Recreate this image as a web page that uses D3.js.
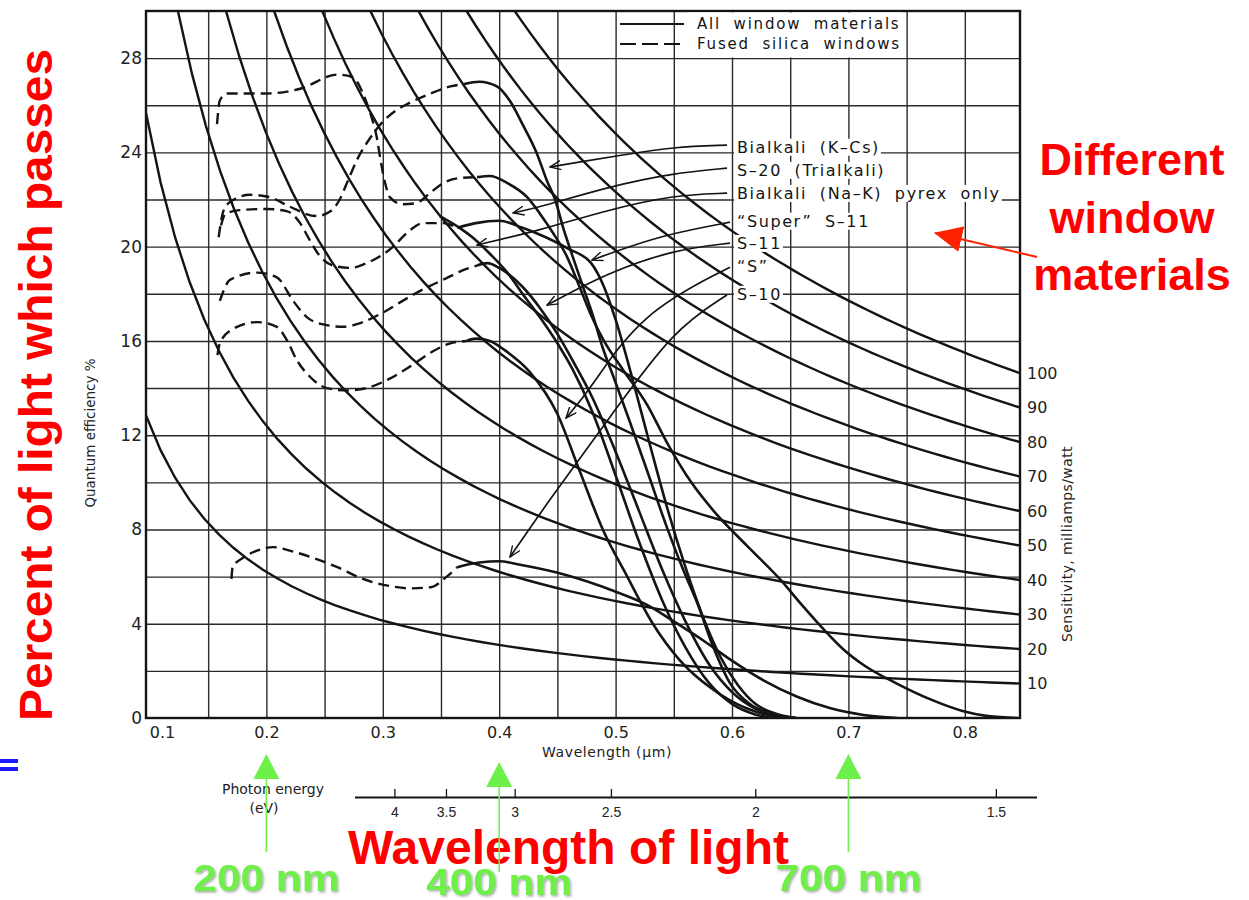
<!DOCTYPE html>
<html>
<head>
<meta charset="utf-8">
<script src="https://cdn.jsdelivr.net/npm/d3@7"></script>
<style>
  body { margin: 0; background: #fff; }
  svg { display: block; }
</style>
</head>
<body>
<svg id="chart" width="1249" height="900"></svg>
<script>
// values: wavelength in µm, quantum efficiency in %
const xTicks = [0.1, 0.2, 0.3, 0.4, 0.5, 0.6, 0.7, 0.8]
const xGrid = [0.15, 0.2, 0.25, 0.3, 0.35, 0.4, 0.45, 0.5, 0.55, 0.6, 0.65, 0.7, 0.75, 0.8]
const yTicks = [0, 4, 8, 12, 16, 20, 24, 28]
const yGrid = [2, 4, 6, 8, 10, 12, 14, 16, 18, 20, 22, 24, 26, 28]
const sensitivities = [10, 20, 30, 40, 50, 60, 70, 80, 90, 100]   // milliamps/watt
const energyTicks = [4, 3.5, 3, 2.5, 2, 1.5]                        // eV

const cathodes = ["Bialkali (K–Cs)", "S–20 (Trialkali)", "Bialkali (Na–K) pyrex only",
  "“Super” S–11", "S–11", "“S”", "S–10"]

// fused silica (dashed) and all-window (solid) parts of each response
const kcsUV = [[0.159,20.4],[0.163,21.5],[0.169,21.9],[0.186,22.2],[0.203,22.1],[0.220,21.7],[0.243,21.3],
  [0.255,21.5],[0.263,22.0],[0.270,22.8],[0.278,23.7],[0.289,24.6],[0.300,25.3],[0.312,25.8],[0.323,26.1],
  [0.341,26.5],[0.358,26.8],[0.370,26.9]]
const kcsVis = [[0.370,26.9],[0.383,27.0],[0.398,26.8],[0.409,26.2],[0.420,25.2],[0.432,24.0],[0.441,22.8],
  [0.448,22.0],[0.455,20.8],[0.463,19.6],[0.472,18.3],[0.481,17.0],[0.489,15.7],[0.498,14.5],[0.512,12.6],
  [0.527,10.5],[0.544,8.1],[0.558,6.3],[0.570,4.9],[0.584,3.0],[0.598,1.5],[0.615,0.6],[0.635,0.15],[0.65,0]]

const s20UV = [[0.1576,25.2],[0.160,26.2],[0.166,26.5],[0.200,26.5],[0.229,26.7],[0.261,27.3],[0.274,27.2],
  [0.283,26.5],[0.289,25.7],[0.295,24.6],[0.298,23.7],[0.302,22.7],[0.306,22.1],[0.317,21.8],[0.329,21.85],
  [0.341,22.3],[0.352,22.7],[0.364,22.9],[0.381,22.95]]
const s20Vis = [[0.381,22.95],[0.392,23.0],[0.407,22.7],[0.424,22.1],[0.435,21.4],[0.446,20.6],[0.458,19.6],
  [0.469,18.3],[0.478,17.2],[0.49,16.0],[0.506,14.8],[0.527,13.3],[0.544,11.7],[0.565,10.0],[0.584,8.8],
  [0.613,7.3],[0.641,5.9],[0.66,4.8],[0.678,3.8],[0.696,2.9],[0.713,2.25],[0.742,1.45],[0.77,0.8],
  [0.798,0.3],[0.82,0.08],[0.845,0]]

const nakVis = [[0.349,21.3],[0.366,20.8],[0.377,20.4],[0.392,19.7],[0.407,18.9],[0.42,18.0],[0.435,17.0],
  [0.45,15.9],[0.463,14.8],[0.48,13.0],[0.50,10.3],[0.52,7.5],[0.54,5.0],[0.56,3.0],[0.58,1.5],[0.60,0.6],
  [0.62,0.15],[0.635,0]]

const superUV = [[0.161,20.9],[0.165,21.4],[0.177,21.55],[0.200,21.6],[0.218,21.5],[0.229,21.0],[0.237,20.3],
  [0.246,19.6],[0.257,19.2],[0.272,19.1],[0.286,19.3],[0.298,19.6],[0.309,20.0],[0.321,20.6],[0.335,21.0],
  [0.352,21.0],[0.364,20.8]]
const superVis = [[0.364,20.8],[0.38,21.0],[0.40,21.1],[0.42,20.8],[0.44,20.4],[0.46,19.9],[0.479,19.3],
  [0.49,18.3],[0.50,16.9],[0.515,14.3],[0.53,11.5],[0.545,8.8],[0.56,6.4],[0.575,4.3],[0.59,2.6],
  [0.605,1.4],[0.62,0.6],[0.64,0.15],[0.655,0]]

const s11UV = [[0.160,17.7],[0.169,18.6],[0.192,18.9],[0.209,18.7],[0.223,17.7],[0.235,17.0],[0.249,16.7],
  [0.266,16.6],[0.283,16.8],[0.300,17.2],[0.317,17.7],[0.335,18.2],[0.352,18.6],[0.369,19.0],[0.381,19.2]]
const s11Vis = [[0.381,19.2],[0.39,19.3],[0.40,19.1],[0.42,18.3],[0.435,17.4],[0.45,16.3],[0.465,15.0],
  [0.48,13.6],[0.50,11.3],[0.52,8.8],[0.54,6.3],[0.56,4.1],[0.58,2.3],[0.60,1.1],[0.62,0.4],[0.64,0.1],[0.655,0]]

const sUV = [[0.158,15.4],[0.160,15.9],[0.171,16.5],[0.192,16.8],[0.209,16.6],[0.218,16.0],[0.226,15.2],
  [0.237,14.5],[0.252,14.0],[0.269,13.9],[0.286,14.0],[0.306,14.4],[0.323,14.9],[0.341,15.5],[0.358,15.9],
  [0.372,16.0]]
const sVis = [[0.372,16.0],[0.38,16.1],[0.392,16.0],[0.405,15.6],[0.426,14.7],[0.45,12.9],[0.469,10.5],
  [0.489,8.0],[0.51,6.0],[0.532,4.0],[0.555,2.46],[0.584,1.2],[0.613,0.4],[0.64,0.05],[0.655,0]]

const s10UV = [[0.170,5.9],[0.171,6.4],[0.180,6.8],[0.192,7.1],[0.206,7.25],[0.220,7.1],[0.240,6.8],
  [0.261,6.4],[0.283,5.9],[0.306,5.6],[0.323,5.5],[0.341,5.55],[0.355,6.0],[0.364,6.4]]
const s10Vis = [[0.364,6.4],[0.372,6.5],[0.383,6.6],[0.40,6.65],[0.418,6.5],[0.455,6.1],[0.498,5.4],
  [0.527,4.8],[0.55,4.1],[0.575,3.3],[0.598,2.5],[0.627,1.6],[0.656,0.9],[0.684,0.42],[0.713,0.13],[0.742,0]]

// label rows (QE at label) and leader paths ending in the arrow tips
const labelQE = [24.23, 23.25, 22.27, 21.09, 20.15, 19.18, 17.99]
const leaders = [
  [[0.5957,24.31],[0.5493,24.23],[0.5064,23.89],[0.4634,23.55],[0.4436,23.38]],
  [[0.5957,23.33],[0.5493,23.12],[0.4926,22.53],[0.4351,21.68],[0.4119,21.43]],
  [[0.5957,22.27],[0.5493,22.19],[0.4926,21.55],[0.4351,20.70],[0.3809,20.07]],
  [[0.5983,21.04],[0.5493,20.58],[0.5098,19.98],[0.4797,19.43]],
  [[0.5983,20.15],[0.5493,19.86],[0.4926,18.88],[0.4411,17.52]],
  [[0.5983,19.13],[0.5210,17.18],[0.4780,13.92],[0.4574,12.73]],
  [[0.5957,17.95],[0.5493,16.46],[0.4978,12.94],[0.4411,9.12],[0.4093,6.83]]
]

const curves = [
  {uv: kcsUV, vis: kcsVis}, {uv: s20UV, vis: s20Vis}, {uv: [], vis: nakVis},
  {uv: superUV, vis: superVis}, {uv: s11UV, vis: s11Vis}, {uv: sUV, vis: sVis}, {uv: s10UV, vis: s10Vis}
]

// ---- layout ----
let plot = {left: 146, right: 1020, top: 11, bottom: 718}
let ink = "#141414", font = "DejaVu Sans, sans-serif", bold = "Liberation Sans, Arial, sans-serif"

let svg = d3.select("#chart")
let x = d3.scaleLinear().domain([0.0966, 0.8474]).range([plot.left, plot.right])
let y = d3.scaleLinear().domain([0, 30]).range([plot.bottom, plot.top])

// mA/W -> QE% at a given wavelength (µm)
function isoQE(s, lam) { return s * 0.124 / lam }

svg.append("defs").html(`
  <clipPath id="clip"><rect x="${plot.left}" y="${plot.top}" width="${plot.right - plot.left}" height="${plot.bottom - plot.top}"/></clipPath>
  <filter id="shadow" x="-10%" y="-20%" width="120%" height="140%">
    <feDropShadow dx="1.5" dy="1.5" stdDeviation="1" flood-color="#555" flood-opacity="0.5"/></filter>
  <marker id="open" markerUnits="userSpaceOnUse" viewBox="0 0 12 10" refX="11" refY="5" markerWidth="12" markerHeight="10" orient="auto">
    <path d="M0,0.5 L11,5 L0,9.5" fill="none" stroke="${ink}" stroke-width="1.4"/></marker>
  <marker id="redhead" markerUnits="userSpaceOnUse" viewBox="0 0 28 26" refX="27" refY="13" markerWidth="28" markerHeight="26" orient="auto">
    <path d="M0,0 L28,13 L0,26 z" fill="#ff2200"/></marker>`)

// grid
svg.append("g")
  .attr("transform", `translate(0,${plot.bottom})`)
  .call(d3.axisBottom(x).tickValues(xGrid).tickSize(-(plot.bottom - plot.top)).tickFormat(""))
  .call(g => g.select(".domain").remove())
  .call(g => g.selectAll("line").attr("stroke", "#2a2a2a").attr("stroke-width", 1.4))

svg.append("g")
  .attr("transform", `translate(${plot.left},0)`)
  .call(d3.axisLeft(y).tickValues(yGrid).tickSize(-(plot.right - plot.left)).tickFormat(""))
  .call(g => g.select(".domain").remove())
  .call(g => g.selectAll("line").attr("stroke", "#2a2a2a").attr("stroke-width", 1.4))

let body = svg.append("g").attr("clip-path", "url(#clip)")

// constant sensitivity lines
let lamEnd = x.domain()[1]
let iso = d3.line().x(d => x(d[0])).y(d => y(d[1]))
sensitivities.forEach(s => {
  let lam0 = Math.max(x.domain()[0], isoQE(s, 1) / 30)
  let pts = d3.range(61).map(i => {
    let lam = lam0 + (lamEnd - lam0) * i / 60
    return [lam, isoQE(s, lam)]
  })
  body.append("path").attr("d", iso(pts))
    .attr("fill", "none").attr("stroke", ink).attr("stroke-width", 2.4)
})

// photocathode responses
let resp = d3.line().x(d => x(d[0])).y(d => y(d[1])).curve(d3.curveMonotoneX)
curves.forEach(c => {
  if (c.uv.length)
    body.append("path").attr("d", resp(c.uv))
      .attr("fill", "none").attr("stroke", ink).attr("stroke-width", 2.4)
      .attr("stroke-dasharray", "11,6")
  body.append("path").attr("d", resp(c.vis))
    .attr("fill", "none").attr("stroke", ink).attr("stroke-width", 2.6)
})

// frame
svg.append("rect")
  .attr("x", plot.left).attr("y", plot.top)
  .attr("width", plot.right - plot.left).attr("height", plot.bottom - plot.top)
  .attr("fill", "none").attr("stroke", ink).attr("stroke-width", 2.4)

// legend
let lg = svg.append("g")
lg.append("rect").attr("x", 688).attr("y", plot.top + 1.5).attr("width", 214).attr("height", 45).attr("fill", "#fff")
lg.append("line").attr("x1", 620).attr("x2", 684).attr("y1", 24).attr("y2", 24)
  .attr("stroke", ink).attr("stroke-width", 2)
lg.append("line").attr("x1", 620).attr("x2", 684).attr("y1", 44).attr("y2", 44)
  .attr("stroke", ink).attr("stroke-width", 2).attr("stroke-dasharray", "16,6")
lg.selectAll("text").data(["All window materials", "Fused silica windows"]).enter()
  .append("text")
  .attr("x", 697).attr("y", (d, i) => 29 + i * 20)
  .attr("font-family", font).attr("font-size", 15).attr("letter-spacing", 1.8).attr("word-spacing", 6)
  .attr("fill", ink).text(d => d)

// curve labels with white backing
let lx = x(0.6043)
cathodes.forEach((name, i) => {
  let g = svg.append("g")
  let t = g.append("text")
    .attr("x", lx).attr("y", y(labelQE[i])).attr("dy", "0.36em")
    .attr("font-family", font).attr("font-size", 16).attr("letter-spacing", 1.6).attr("word-spacing", 6)
    .attr("fill", ink).text(name)
  let b = t.node().getBBox()
  g.insert("rect", "text").attr("x", b.x - 3).attr("y", b.y + 1).attr("width", b.width + 4).attr("height", b.height - 2)
    .attr("fill", "#fff")
})

let lead = d3.line().x(d => x(d[0])).y(d => y(d[1])).curve(d3.curveBasis)
leaders.forEach(pts => {
  svg.append("path").attr("d", lead(pts))
    .attr("fill", "none").attr("stroke", ink).attr("stroke-width", 1.7)
    .attr("marker-end", "url(#open)")
})

// axes labels
svg.append("g")
  .attr("transform", `translate(${plot.left},0)`)
  .call(d3.axisLeft(y).tickValues(yTicks).tickSize(0).tickPadding(4))
  .call(g => g.select(".domain").remove())
  .call(g => g.selectAll("text").attr("font-family", font).attr("font-size", 17).attr("fill", "#222"))

svg.append("g")
  .attr("transform", `translate(0,${plot.bottom})`)
  .call(d3.axisBottom(x).tickValues(xTicks).tickSize(0).tickPadding(9).tickFormat(d3.format(".1f")))
  .call(g => g.select(".domain").remove())
  .call(g => g.selectAll("text").attr("font-family", font).attr("font-size", 16).attr("fill", "#222")
    .attr("dx", d => d === 0.1 ? 12 : 0))

let rightVals = sensitivities.map(s => isoQE(s, lamEnd))
svg.append("g")
  .attr("transform", `translate(${plot.right},0)`)
  .call(d3.axisRight(y).tickValues(rightVals).tickSize(0).tickPadding(7).tickFormat((d, i) => sensitivities[i]))
  .call(g => g.select(".domain").remove())
  .call(g => g.selectAll("text").attr("font-family", font).attr("font-size", 16).attr("fill", "#222"))

svg.append("text")
  .attr("transform", `translate(95,433) rotate(-90)`).attr("text-anchor", "middle")
  .attr("font-family", font).attr("font-size", 13.5).attr("fill", "#222").text("Quantum efficiency %")
svg.append("text")
  .attr("transform", `translate(1072,544) rotate(-90)`).attr("text-anchor", "middle")
  .attr("font-family", font).attr("font-size", 14).attr("letter-spacing", 0.4).attr("fill", "#222")
  .text("Sensitivity, milliamps/watt")
svg.append("text")
  .attr("x", 607).attr("y", 757).attr("text-anchor", "middle")
  .attr("font-family", font).attr("font-size", 14).attr("letter-spacing", 0.6).attr("fill", "#222")
  .text("Wavelength (μm)")

// photon energy scale: position is linear in 1/E
let e = d3.scalePow().exponent(-1).domain([1.24 / 0.2757, 1.24 / 0.8616]).range([x(0.2757), x(0.8616)])
svg.append("g")
  .attr("transform", "translate(0,797)")
  .call(d3.axisBottom(e).tickValues(energyTicks).tickSize(-8).tickSizeOuter(0).tickPadding(10)
    .tickFormat(d => String(d)))
  .call(g => g.select(".domain").attr("stroke", ink).attr("stroke-width", 2))
  .call(g => g.selectAll("line").attr("stroke", ink).attr("stroke-width", 1.3))
  .call(g => g.selectAll("text").attr("font-family", bold).attr("font-size", 14).attr("fill", "#222"))
svg.append("text").attr("x", 273).attr("y", 794).attr("text-anchor", "middle")
  .attr("font-family", font).attr("font-size", 14).attr("fill", "#222").text("Photon energy")
svg.append("text").attr("x", 264).attr("y", 813).attr("text-anchor", "middle")
  .attr("font-family", font).attr("font-size", 14).attr("fill", "#222").text("(eV)")

// slide annotations
let red = "#fe0000"
svg.append("text")
  .attr("transform", "translate(52,385) rotate(-90)").attr("text-anchor", "middle")
  .attr("font-family", bold).attr("font-weight", "bold").attr("font-size", 46)
  .attr("textLength", 672).attr("lengthAdjust", "spacingAndGlyphs")
  .attr("fill", red).text("Percent of light which passes")

svg.selectAll(".mat").data(["Different", "window", "materials"]).enter()
  .append("text").attr("class", "mat")
  .attr("x", 1132).attr("y", (d, i) => 175 + i * 57.5).attr("text-anchor", "middle")
  .attr("font-family", bold).attr("font-weight", "bold").attr("font-size", 45)
  .attr("fill", red).text(d => d)

svg.append("line").attr("x1", 1037).attr("y1", 257).attr("x2", 935).attr("y2", 233)
  .attr("stroke", "#ff2200").attr("stroke-width", 2).attr("marker-end", "url(#redhead)")

svg.append("text")
  .attr("x", 348).attr("y", 864)
  .attr("font-family", bold).attr("font-weight", "bold").attr("font-size", 48)
  .attr("textLength", 441).attr("lengthAdjust", "spacingAndGlyphs")
  .attr("fill", red).text("Wavelength of light")

// green markers at 200, 400, 700 nm
let green = "#6ef04a"
let marks = [{lam: 0.2, tip: 754, end: 852, base: 891, text: "200 nm"},
             {lam: 0.4, tip: 762, end: 872, base: 895, text: "400 nm"},
             {lam: 0.7, tip: 754, end: 852, base: 891, text: "700 nm"}]
marks.forEach(m => {
  let cx = x(m.lam)
  svg.append("line").attr("x1", cx).attr("x2", cx).attr("y1", m.tip + 20).attr("y2", m.end)
    .attr("stroke", green).attr("stroke-width", 1.6)
  svg.append("path").attr("d", `M${cx},${m.tip} L${cx + 13},${m.tip + 25} L${cx - 13},${m.tip + 25} Z`)
    .attr("fill", green)
  svg.append("text").attr("x", cx).attr("y", m.base).attr("text-anchor", "middle")
    .attr("font-family", bold).attr("font-weight", "bold").attr("font-size", 37)
    .attr("textLength", 146).attr("lengthAdjust", "spacingAndGlyphs")
    .attr("filter", "url(#shadow)")
    .attr("fill", green).text(m.text)
})

// blue "=" fragment at the left edge
svg.append("rect").attr("x", 0).attr("y", 759).attr("width", 18).attr("height", 4).attr("fill", "#1a1aff")
svg.append("rect").attr("x", 0).attr("y", 767).attr("width", 18).attr("height", 4).attr("fill", "#1a1aff")
</script>
</body>
</html>
